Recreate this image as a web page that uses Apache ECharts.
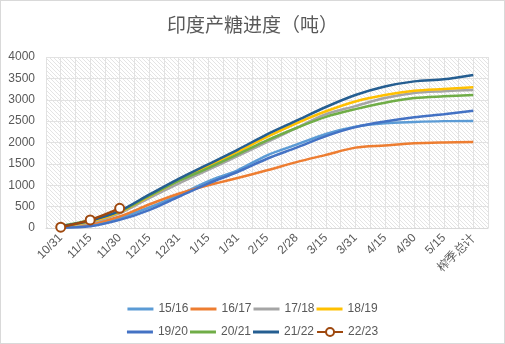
<!DOCTYPE html>
<html>
<head>
<meta charset="utf-8">
<script src="https://cdn.jsdelivr.net/npm/echarts@6/dist/echarts.min.js"></script>
<style>
html,body{margin:0;padding:0;background:#fff;}
#c{width:505px;height:344px;box-sizing:border-box;border:1px solid #d9d9d9;}
</style>
</head>
<body>
<div id="c"></div>
<script>
var categories = ['10/31','11/15','11/30','12/15','12/31','1/15','1/31','2/15','2/28','3/15','3/31','4/15','4/30','5/15','榨季总计'];
var yTicks = [0,500,1000,1500,2000,2500,3000,3500,4000];
var s1516 = [10, 70, 240, 480, 770, 1090, 1350, 1700, 1950, 2200, 2370, 2450, 2480, 2500, 2505];
var s1617 = [15, 100, 270, 550, 800, 1000, 1170, 1350, 1540, 1710, 1880, 1930, 1980, 2000, 2010];
var s1718 = [20, 120, 340, 700, 1040, 1360, 1680, 2010, 2340, 2660, 2850, 3040, 3160, 3200, 3230];
var s1819 = [30, 150, 370, 740, 1110, 1440, 1780, 2130, 2450, 2730, 2960, 3110, 3210, 3250, 3290];
var s1920 = [5, 40, 190, 420, 730, 1040, 1310, 1620, 1880, 2150, 2360, 2490, 2590, 2660, 2740];
var s2021 = [45, 190, 390, 750, 1100, 1400, 1720, 2050, 2340, 2600, 2780, 2930, 3040, 3080, 3110];
var s2122 = [40, 170, 400, 780, 1150, 1490, 1830, 2190, 2510, 2830, 3110, 3310, 3430, 3480, 3580];
var s2223 = [20, 190, 460];

var names = ['15/16','16/17','17/18','18/19','19/20','20/21','21/22','22/23'];
var dataSets = [s1516, s1617, s1718, s1819, s1920, s2021, s2122, s2223];
var colors = ['#5B9BD5','#ED7D31','#A5A5A5','#FFC000','#4472C4','#70AD47','#255E91','#9E480E'];

var pc = document.createElement('canvas');
pc.width = 4; pc.height = 4;
var pctx = pc.getContext('2d');
pctx.fillStyle = '#ffffff';
pctx.fillRect(0,0,4,4);
pctx.fillStyle = '#e4e4e4';
for (var i = 0; i < 4; i++) { pctx.fillRect(i, i, 1, 1); }

var series = dataSets.map(function(d, i){
  var isLast = i === 7;
  return {
    name: names[i],
    type: 'line',
    data: d,
    smooth: 0.3,
    xAxisIndex: 0,
    yAxisIndex: 0,
    z: isLast ? 10 : 2 + i,
    symbol: isLast ? 'circle' : 'none',
    symbolSize: 9,
    showSymbol: isLast,
    lineStyle: {width: 2.5, color: colors[i]},
    itemStyle: isLast ? {color: '#ffffff', borderColor: colors[i], borderWidth: 2} : {color: colors[i]},
    emphasis: {disabled: true}
  };
});

var lineIcon = 'path://M0,0 L26,0 L26,3 L0,3 Z';
function legendData(list) {
  return list.map(function(n){
    return n === '22/23' ? {name: n} : {name: n, icon: lineIcon};
  });
}
var legendCommon = {
  left: 'center',
  itemWidth: 26,
  itemHeight: 10,
  itemGap: 2,
  textStyle: {fontSize: 12, color: '#595959', fontFamily: 'Liberation Sans'}
};

var chart = echarts.init(document.getElementById('c'), null, {renderer: 'canvas'});
chart.setOption({
  animation: false,
  color: colors,
  title: {
    text: '印度产糖进度（吨）',
    left: 'center',
    top: 9,
    textStyle: {fontSize: 19, fontWeight: 'normal', color: '#595959', fontFamily: 'Noto Sans CJK SC'}
  },
  legend: [
    Object.assign({data: legendData(names.slice(0,4)), top: 297}, legendCommon),
    Object.assign({data: legendData(names.slice(4)), top: 320}, legendCommon)
  ],
  grid: {
    left: 45, right: 16, top: 56, bottom: 115,
    show: true,
    borderWidth: 0,
    backgroundColor: {image: pc, repeat: 'repeat'}
  },
  xAxis: [{
    type: 'category',
    data: categories,
    boundaryGap: true,
    axisLine: {lineStyle: {color: '#d9d9d9'}},
    axisTick: {show: false},
    splitLine: {show: false},
    axisLabel: {rotate: 45, fontSize: 12, color: '#595959', interval: 0, margin: 8, fontFamily: 'Liberation Sans'}
  },{
    type: 'value',
    min: 0, max: 30, interval: 1,
    show: true,
    position: 'top',
    axisLine: {show: false},
    axisTick: {show: false},
    axisLabel: {show: false},
    splitLine: {show: true, lineStyle: {color: '#e2e2e2', width: 1}}
  }],
  yAxis: {
    type: 'value',
    min: yTicks[0], max: yTicks[yTicks.length-1], interval: yTicks[1]-yTicks[0],
    axisLine: {show: false},
    axisTick: {show: false},
    axisLabel: {fontSize: 12, color: '#595959', margin: 11, fontFamily: 'Liberation Sans', formatter: function(v){ return String(v); }},
    splitLine: {lineStyle: {color: '#e2e2e2', width: 1}}
  },
  series: series
});
</script>
</body>
</html>
